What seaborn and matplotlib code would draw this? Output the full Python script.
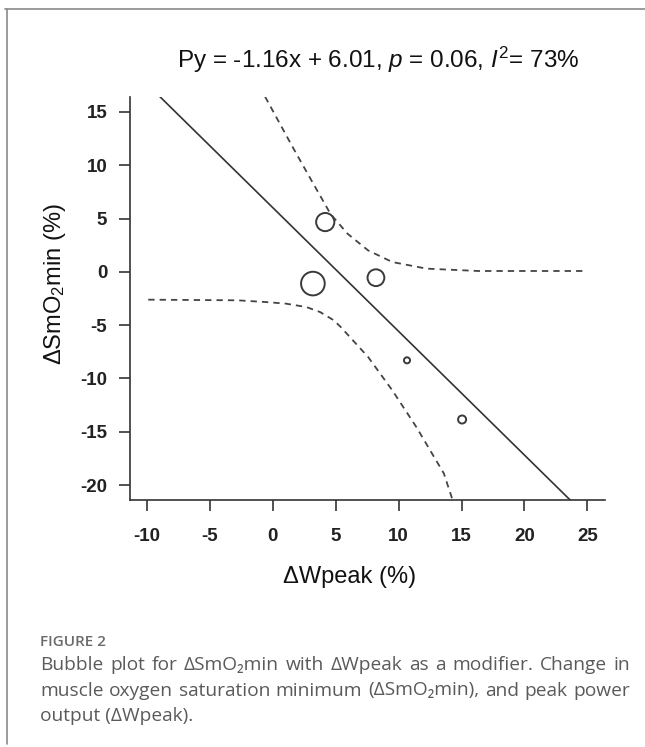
import matplotlib
matplotlib.use("Agg")
import matplotlib.pyplot as plt
import seaborn as sns
from matplotlib.lines import Line2D

# studies
study_x = [4.16, 3.18, 8.19, 10.66, 15.04]
study_y = [4.67, -1.10, -0.55, -8.30, -13.85]
study_weight = [26.0, 43.9, 22.1, 2.9, 5.1]

# meta-regression line from the title
slope, intercept = -1.16, 6.01
line_x = [-11.4, 26.4]

# 95% confidence band (dashed)
upper_x = [-0.62, 1.57, 3.21, 4.57, 5.93, 7.57, 9.49, 12.22, 16.32, 24.79]
upper_y = [16.43, 11.70, 8.27, 5.45, 3.58, 2.01, 0.92, 0.30, 0.08, 0.08]
lower_x = [-9.91, -2.81, -0.60, 1.02, 2.66, 3.75, 4.85, 5.39, 7.57, 9.49, 11.40, 13.59, 14.27]
lower_y = [-2.61, -2.67, -2.83, -2.98, -3.30, -3.77, -4.55, -5.17, -7.99, -11.11, -14.55, -18.91, -21.35]

x_ticks = [-10, -5, 0, 5, 10, 15, 20, 25]
y_ticks = [-20, -15, -10, -5, 0, 5, 10, 15]

title = "Py = -1.16x + 6.01, $p$ = 0.06, $I^2$= 73%"
x_label = "\u0394Wpeak (%)"
y_label = "\u0394SmO$_2$min (%)"
fig_heading = "FIGURE 2"
caption_lines = [
    "Bubble plot for \u0394SmO\u2082min with \u0394Wpeak as a modifier. Change in",
    "muscle oxygen saturation minimum (\u0394SmO\u2082min), and peak power",
    "output (\u0394Wpeak).",
]

sns.set_style("ticks")
plt.rcParams["font.family"] = ["Liberation Sans", "DejaVu Sans"]
plt.rcParams["mathtext.fontset"] = "custom"
plt.rcParams["mathtext.rm"] = "Liberation Sans"
plt.rcParams["mathtext.it"] = "Liberation Sans:italic"
plt.rcParams["axes.unicode_minus"] = False

ink = "#333333"

fig = plt.figure(figsize=(6.45, 7.47), dpi=100)
W, H = 645, 747
ax = fig.add_axes([129.5 / W, 1 - 500 / H, 475.5 / W, 403 / H])

sns.lineplot(x=line_x, y=[slope * v + intercept for v in line_x], ax=ax,
             color=ink, lw=1.2)
for bx, by in [(upper_x, upper_y), (lower_x, lower_y)]:
    sns.lineplot(x=bx, y=by, ax=ax, sort=False, color="#444444", lw=1.3,
                 linestyle=(0, (3.5, 2.8)))

sns.scatterplot(x=study_x, y=study_y, size=study_weight, sizes=(0, 290),
                size_norm=(0, max(study_weight)), marker="o", legend=False, ax=ax)
pts = ax.collections[-1]
pts.set_facecolor("none")
pts.set_edgecolor("#3a3a3a")
pts.set_linewidth(1.4)

ax.set_xlim(-11.4, 26.4)
ax.set_ylim(-21.4, 16.4)
sns.despine(ax=ax)
for side in ["left", "bottom"]:
    ax.spines[side].set_color(ink)
    ax.spines[side].set_linewidth(1.2)

ax.set_xticks(x_ticks)
ax.set_xticklabels([str(t) for t in x_ticks], fontsize=13.5, fontweight="bold")
ax.set_yticks(y_ticks)
ax.set_yticklabels([str(t) for t in y_ticks], fontsize=13.5, fontweight="bold")
ax.tick_params(axis="both", length=8, width=1.2, color=ink, labelcolor="#222222")
ax.tick_params(axis="x", pad=12)
ax.tick_params(axis="y", pad=8)

ax.set_xlabel(x_label, fontsize=17, color="#111111", va="center")
ax.xaxis.set_label_coords((350 - 129.5) / 475.5, (500 - 577) / 403)
ax.set_ylabel(y_label, fontsize=17, color="#111111", va="center")
ax.yaxis.set_label_coords((55 - 129.5) / 475.5, (500 - 284.5) / 403)

fig.text(378.5 / W, 1 - 60 / H, title, fontsize=17.5, color="#111111",
         ha="center", va="center")

# frame lines of the figure panel
fig.add_artist(Line2D([5 / W, 1], [1 - 9 / H] * 2, transform=fig.transFigure,
                      color="#8a8a8a", lw=1.2))
fig.add_artist(Line2D([6.5 / W] * 2, [1 - 9 / H, 1 - 744 / H], transform=fig.transFigure,
                      color="#8a8a8a", lw=1.2))

# caption
cap_font = ["Open Sans", "DejaVu Sans"]
cap_color = "#5a5a5a"
fig.text(40 / W, 1 - 642 / H, fig_heading, fontsize=11, color="#6a6a6a",
         family=cap_font, fontweight="semibold", va="center")

renderer = fig.canvas.get_renderer()
x0, x1 = 40, 630

# pick a caption size so the justified lines keep near-normal word spacing
probe_sizes = []
for line in caption_lines[:2]:
    t = fig.text(0, 0, line, fontsize=12, family=cap_font)
    probe_sizes.append(12 * (x1 - x0 - 6) / t.get_window_extent(renderer).width)
    t.remove()
cap_size = min(probe_sizes)

for i, line in enumerate(caption_lines):
    y = 1 - (665 + 25.5 * i) / H
    if i == len(caption_lines) - 1:
        fig.text(x0 / W, y, line, fontsize=cap_size, color=cap_color, family=cap_font, va="center")
        continue
    words = line.split(" ")
    texts = [fig.text(0, y, w, fontsize=cap_size, color=cap_color, family=cap_font, va="center")
             for w in words]
    widths = [t.get_window_extent(renderer).width for t in texts]
    gap = ((x1 - x0) - sum(widths)) / (len(words) - 1)
    pos = x0
    for t, w in zip(texts, widths):
        t.set_x(pos / W)
        pos += w + gap

fig.savefig("out.png", dpi=100)
plt.close(fig)
